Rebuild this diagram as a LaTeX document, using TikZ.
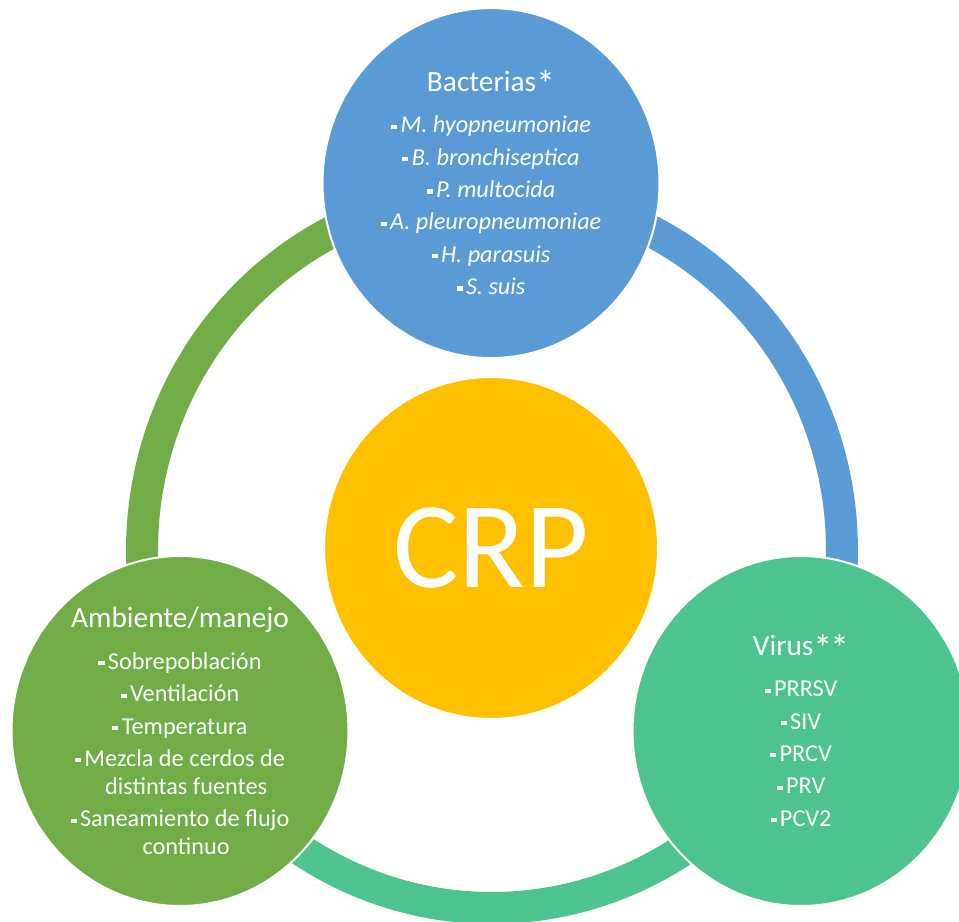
\documentclass[tikz,border=0pt]{standalone}
\usepackage{fontspec}
\setmainfont{Carlito}
\usetikzlibrary{shapes.geometric}

\definecolor{bactblue}{HTML}{5B9BD5}
\definecolor{ambgreen}{HTML}{70AD47}
\definecolor{virteal}{HTML}{4DC48D}
\definecolor{crpgold}{HTML}{FFC000}

\newcommand{\blt}{\rule[0.17em]{0.25em}{0.17em}\hspace{0.14em}}
\newcommand{\ttl}{\fontsize{16.7}{20}\selectfont}
\newcommand{\astk}{\raisebox{-0.19em}[0.6em][0pt]{\scalebox{1.3}{*}}}

\begin{document}
\begin{tikzpicture}[x=0.02cm, y=0.02cm, node distance=7.3cm,
		ball/.style={ellipse, draw=white, line width=0.04cm, minimum width=6.74cm, minimum height=7cm, inner sep=0pt},
		txt/.style={align=center, text=white, inner sep=0pt, font=\fontsize{13.8}{18.4}\selectfont},
		ringarc/.style={line width=0.64cm, line cap=butt}]
	\useasboundingbox (0,0) rectangle (959,921);
	\clip (0,0) rectangle (959,921);

	\coordinate (ring) at (492,371);
	\draw[ringarc, ambgreen] (ring) ++(210:7cm and 7.16cm) arc[start angle=210, end angle=90, x radius=7cm, y radius=7.16cm];
	\draw[ringarc, bactblue] (ring) ++(90:7cm and 7.16cm) arc[start angle=90, end angle=-30, x radius=7cm, y radius=7.16cm];
	\draw[ringarc, virteal] (ring) ++(-30:7cm and 7.16cm) arc[start angle=-30, end angle=-150, x radius=7cm, y radius=7.16cm];

	\node[ball, fill=crpgold, minimum width=6.68cm, minimum height=6.84cm, text=white, font=\fontsize{70}{80}\selectfont] (crp) at (491,373) {CRP};
	\node[ball, fill=bactblue] (bact) [above of = crp] {};
	\node[ball, fill=ambgreen] (amb) at (180,190) {};
	\node[ball, fill=virteal] (vir) at (801,190) {};

	\node[txt] (bacttxt) at (bact) {{\ttl Bacterias\astk}\\[5.2pt]
		\blt\textit{M. hyopneumoniae}\\
		\blt\textit{B. bronchiseptica}\\
		\blt\textit{P. multocida}\\
		\blt\textit{A. pleuropneumoniae}\\
		\blt\textit{H. parasuis}\\
		\blt\textit{S. suis}};
	\node[txt] (ambtxt) at (amb) {{\ttl Ambiente/manejo}\\[5.5pt]
		\blt Sobrepoblación\\
		\blt Ventilación\\
		\blt Temperatura\\
		\blt Mezcla de cerdos de\\[-2.5pt]
		\hspace{0.5em}distintas fuentes\\
		\blt Saneamiento de flujo\\[-2.5pt]
		\hspace{0.5em}continuo};
	\node[txt] (virtxt) at (vir) {{\ttl Virus\astk\kern-0.08em\astk}\\[5pt]
		\blt PRRSV\\
		\blt SIV\\
		\blt PRCV\\
		\blt PRV\\
		\blt PCV2};
\end{tikzpicture}
\end{document}
